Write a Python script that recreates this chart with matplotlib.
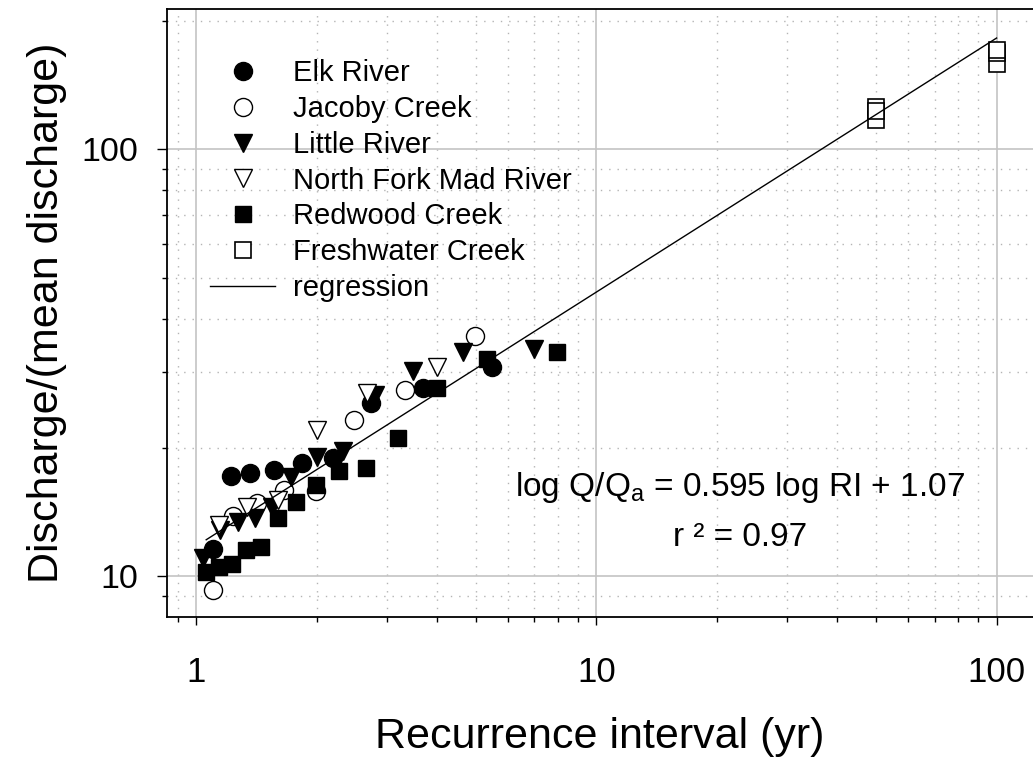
import numpy as np
import matplotlib
matplotlib.use("Agg")
import matplotlib.pyplot as plt

plt.rcParams['font.family'] = ['Liberation Sans', 'DejaVu Sans']
plt.rcParams['mathtext.fontset'] = 'custom'
plt.rcParams['mathtext.rm'] = 'Liberation Sans'
plt.rcParams['mathtext.default'] = 'regular'

# Data (recurrence interval in yr, Q / mean Q)
elk_ri = [1.10, 1.22, 1.36, 1.57, 1.84, 2.20, 2.73, 3.68, 5.48]
elk_q = [11.6, 17.2, 17.4, 17.7, 18.4, 18.9, 25.4, 27.5, 30.8]

jacoby_ri = [1.10, 1.24, 1.42, 1.66, 1.99, 2.48, 3.33, 4.98]
jacoby_q = [9.3, 13.8, 14.8, 15.9, 15.8, 23.2, 27.3, 36.4]

little_ri = [1.04, 1.15, 1.27, 1.40, 1.55, 1.73, 2.00, 2.33, 2.80, 3.49, 4.65, 6.99]
little_q = [11.0, 12.8, 13.4, 13.7, 14.5, 17.1, 19.0, 19.6, 26.5, 30.2, 33.5, 34.1]

nfmad_ri = [1.14, 1.34, 1.60, 2.00, 2.67, 3.99]
nfmad_q = [13.2, 14.5, 15.1, 22.0, 26.8, 30.9]

redwood_ri = [1.06, 1.14, 1.23, 1.33, 1.45, 1.60, 1.78, 1.99, 2.28, 2.66, 3.20, 3.99, 5.33, 7.99]
redwood_q = [10.2, 10.5, 10.7, 11.5, 11.7, 13.7, 14.9, 16.3, 17.6, 17.9, 21.1, 27.5, 32.3, 33.5]

fresh_ri = [50, 50, 50, 100, 100, 100]
fresh_q = [117.2, 125.4, 122.7, 158.5, 168.2, 170.6]

# regression: log Q/Qa = 0.595 log RI + 1.07
slope, intercept = 0.595, 1.07
reg_ri = np.array([1.06, 100])
reg_q = 10 ** (slope * np.log10(reg_ri) + intercept)

W, H = 1033, 763
fig = plt.figure(figsize=(W / 100, H / 100), dpi=100)
ax = fig.add_axes([167 / W, 1 - 617 / H, (W - 167) / W, (617 - 9) / H])
ax.set_xscale('log')
ax.set_yscale('log')
ax.set_xlim(0.846, 123.3)
ax.set_ylim(8.02, 212.8)

ax.grid(True, which='major', color='#c4c4c4', lw=1.2, zorder=0)
ax.grid(True, which='minor', color='#b4b4b4', lw=1.0, ls=(0, (1, 5)), zorder=0)
ax.set_axisbelow(True)

ax.plot(elk_ri, elk_q, 'o', color='black', ms=13, ls='none', label='Elk River', zorder=3)
ax.plot(jacoby_ri, jacoby_q, 'o', mfc='white', mec='black', mew=1, ms=13, ls='none',
        label='Jacoby Creek', zorder=3)
ax.plot(little_ri, little_q, 'v', color='black', ms=13.5, ls='none', label='Little River', zorder=3)
ax.plot(nfmad_ri, nfmad_q, 'v', mfc='white', mec='black', mew=1, ms=13.5, ls='none',
        label='North Fork Mad River', zorder=3)
ax.plot(redwood_ri, redwood_q, 's', color='black', ms=12, ls='none', label='Redwood Creek', zorder=3)
for i in range(len(fresh_ri)):
    ax.plot(fresh_ri[i], fresh_q[i], 's', mfc='white', mec='black', mew=1.2, ms=11.5, ls='none',
            label='Freshwater Creek' if i == 0 else None, zorder=3)
ax.plot(reg_ri, reg_q, color='black', lw=1, label='regression', zorder=4)

ax.text(22.9, 16.1, 'log Q/Q$_a$ = 0.595 log RI + 1.07', fontsize=24, ha='center', va='center')
ax.text(22.9, 12.3, 'r \u00b2 = 0.97', fontsize=24, ha='center', va='center')

ax.spines['right'].set_visible(False)
for s in ['left', 'bottom', 'top']:
    ax.spines[s].set_linewidth(1.3)

ax.set_xticks([1, 10, 100])
ax.set_xticklabels(['1', '10', '100'])
ax.set_yticks([10, 100])
ax.set_yticklabels(['10', '100'])
ax.tick_params(axis='x', which='major', length=6, width=1, direction='out', labelsize=25, pad=22)
ax.tick_params(axis='x', which='minor', length=3.5, width=1, direction='out', labelbottom=False)
ax.tick_params(axis='y', which='major', length=7, width=1, direction='out', labelsize=24.5, pad=14)
ax.tick_params(axis='y', which='minor', length=3.5, width=1, direction='out', labelleft=False)

ax.set_xlabel('Recurrence interval (yr)', fontsize=31, labelpad=20)
ax.set_ylabel('Discharge/(mean discharge)', fontsize=31, labelpad=10)

ax.legend(loc='upper left', bbox_to_anchor=(210 / W, 1 - 59 / H), bbox_transform=fig.transFigure,
          frameon=False, fontsize=21, numpoints=1, handlelength=2.23, handletextpad=0.62,
          labelspacing=0.27, borderpad=0, borderaxespad=0)

fig.savefig('out.png', dpi=100)
